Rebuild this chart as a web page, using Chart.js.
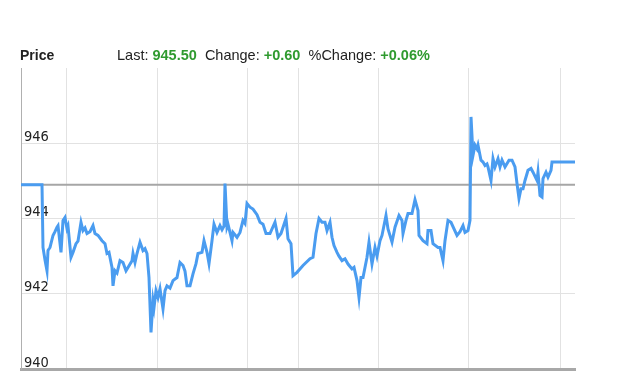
<!DOCTYPE html>
<html>
<head>
<meta charset="utf-8">
<script src="https://cdn.jsdelivr.net/npm/chart.js@4"></script>
<style>
  html, body { margin: 0; padding: 0; background: #fff; }
  #wrap { position: relative; width: 640px; height: 390px; }
  #chart { position: absolute; left: 0; top: 0; }
  .hdr { position: absolute; top: 47px; font-family: "Liberation Sans", Arial, sans-serif; font-size: 14.5px; color: #222; white-space: pre; }
  .hdr b { font-weight: bold; }
  .up { color: #2f9a2f; font-weight: bold; }
</style>
</head>
<body>
<div id="wrap">
  <canvas id="chart" width="640" height="390"></canvas>
  <div class="hdr" style="left:20px;font-size:14px"><b>Price</b></div>
  <div class="hdr" style="left:117px">Last: <span class="up" id="last"></span>  Change: <span class="up" id="chg"></span>  %Change: <span class="up" id="pct"></span></div>
</div>
<script>
// intraday minutes (x) and prices
var minutes = [0, 21, 22, 24, 26, 27, 29, 32, 34, 36, 37, 40, 42, 44, 46, 47, 50, 52, 55, 57,
  60, 62, 64, 66, 69, 72, 74, 77, 81, 84, 86, 88, 91, 92, 94, 96, 99, 102, 105, 107,
  111, 112, 114, 116, 119, 122, 124, 126, 128, 130, 132, 133, 135, 137, 139, 142, 144, 146, 149, 152,
  156, 159, 162, 164, 166, 169, 172, 175, 177, 181, 183, 186, 188, 191, 193, 196, 199, 201, 203, 204,
  206, 207, 211, 212, 216, 219, 222, 224, 226, 229, 232, 236, 239, 242, 245, 249, 254, 257, 260, 265,
  267, 270, 272, 276, 282, 289, 292, 295, 298, 301, 304, 306, 309, 311, 313, 316, 318, 321, 324, 327,
  331, 333, 336, 338, 340, 342, 346, 348, 351, 354, 356, 359, 361, 365, 367, 371, 374, 378, 381, 382,
  385, 387, 391, 394, 397, 398, 402, 406, 407, 410, 412, 417, 419, 422, 424, 427, 430, 436, 439, 442,
  444, 447, 449, 450, 452, 454, 456, 457, 460, 462, 464, 466, 467, 470, 472, 474, 477, 479, 481, 484,
  488, 491, 494, 496, 498, 500, 502, 504, 507, 510, 512, 516, 517, 519, 521, 522, 525, 527, 530, 531, 554];
var prices = [944.9, 944.9, 943.23, 942.9, 942.61, 943.15, 943.23, 943.55, 943.65, 943.77, 943.81, 943.10, 943.95, 944.03, 943.73, 943.8, 942.97, 943.10, 943.33, 943.4,
  943.90, 943.68, 943.75, 943.6, 943.65, 943.81, 943.6, 943.55, 943.41, 943.33, 943.07, 943.1, 942.70, 942.21, 942.61, 942.55, 942.88, 942.83, 942.61, 942.70,
  942.88, 943.07, 942.83, 943.07, 943.37, 943.15, 943.2, 943.07, 942.43, 940.97, 941.81, 941.63, 942.08, 941.90, 942.13, 941.6, 942.08, 942.21, 942.15, 942.35,
  942.43, 942.83, 942.75, 942.6, 942.21, 942.21, 942.53, 942.8, 943.07, 943.10, 943.41, 943.10, 942.8, 943.41, 943.85, 943.63, 943.81, 943.7, 943.8, 944.93,
  943.77, 943.85, 943.41, 943.63, 943.50, 943.63, 943.95, 943.87, 944.40, 944.30, 944.25, 944.1, 943.90, 943.85, 943.6, 943.6, 943.90, 943.50, 943.6, 944.0,
  943.46, 943.33, 942.48, 942.57, 942.75, 942.93, 942.97, 943.6, 944.0, 943.90, 943.9, 943.68, 943.90, 943.50, 943.28, 943.10, 943.0, 942.88, 942.93, 942.79,
  942.66, 942.7, 942.35, 941.90, 942.43, 942.43, 942.97, 943.37, 942.79, 943.23, 943.0, 943.41, 943.55, 944.08, 943.72, 943.37, 943.77, 944.08, 943.95, 943.6,
  943.95, 944.13, 944.13, 944.50, 944.21, 943.55, 943.41, 943.33, 943.68, 943.68, 943.33, 943.23, 943.23, 942.88, 943.41, 943.95, 943.9, 943.55, 943.65, 943.81,
  943.63, 943.68, 943.95, 946.70, 945.68, 945.95, 945.85, 945.95, 945.55, 945.5, 945.41, 945.45, 945.37, 945.01, 945.59, 945.37, 945.59, 945.37, 945.55, 945.37,
  945.55, 945.55, 945.37, 944.93, 944.53, 944.79, 944.79, 945.01, 945.28, 945.33, 945.23, 945.01, 945.23, 944.61, 944.57, 945.06, 945.23, 945.10, 945.28, 945.50, 945.50];
var prevClose = 944.90;
var yTicks = [940, 942, 944, 946, 948];
var xGrid = [45, 136, 226, 277, 357, 448, 539];

var last = prices[prices.length - 1];
var change = last - prevClose;
document.getElementById('last').textContent = last.toFixed(2);
document.getElementById('chg').textContent = (change >= 0 ? '+' : '') + change.toFixed(2);
document.getElementById('pct').textContent = (change >= 0 ? '+' : '') + (change / prevClose * 100).toFixed(2) + '%';

var pricePoints = minutes.map(function (m, i) { return { x: m, y: prices[i] }; });
var closePoints = [{ x: minutes[0], y: prevClose }, { x: minutes[minutes.length - 1], y: prevClose }];

var tickFont = { family: '"DejaVu Sans Condensed", "Liberation Sans", sans-serif', size: 14.5, lineHeight: 0.85 };

new Chart(document.getElementById('chart'), {
  type: 'line',
  data: {
    datasets: [
      {
        data: pricePoints,
        borderColor: '#4a9cf0',
        borderWidth: 3,
        pointRadius: 0,
        tension: 0,
        order: 1
      },
      {
        data: closePoints,
        borderColor: '#a6a6a6',
        borderWidth: 2,
        pointRadius: 0,
        order: 2
      }
    ]
  },
  options: {
    responsive: false,
    animation: false,
    layout: { padding: { left: 21, right: 65, top: 68, bottom: 21 } },
    plugins: { legend: { display: false }, tooltip: { enabled: false } },
    scales: {
      x: {
        type: 'linear',
        min: 0,
        max: 554,
        afterBuildTicks: function (scale) {
          scale.ticks = xGrid.map(function (v) { return { value: v }; });
        },
        afterFit: function (scale) { scale.height = 0; },
        ticks: { display: false },
        grid: { color: '#e2e2e2', drawTicks: false },
        border: { display: true, color: '#a8a8a8', width: 3 }
      },
      y: {
        min: 940,
        max: 948,
        afterBuildTicks: function (scale) {
          scale.ticks = yTicks.map(function (v) { return { value: v }; });
        },
        afterFit: function (scale) { scale.width = 0; },
        ticks: {
          mirror: true,
          padding: 3,
          color: '#222',
          font: tickFont,
          callback: function (v) { return v === 948 ? '' : [String(v), '']; }
        },
        grid: {
          drawTicks: false,
          color: function (ctx) { return ctx.tick && ctx.tick.value === 948 ? 'rgba(0,0,0,0)' : '#e2e2e2'; }
        },
        border: { display: true, color: '#b0b0b0', width: 1 }
      }
    }
  }
});
</script>
</body>
</html>
